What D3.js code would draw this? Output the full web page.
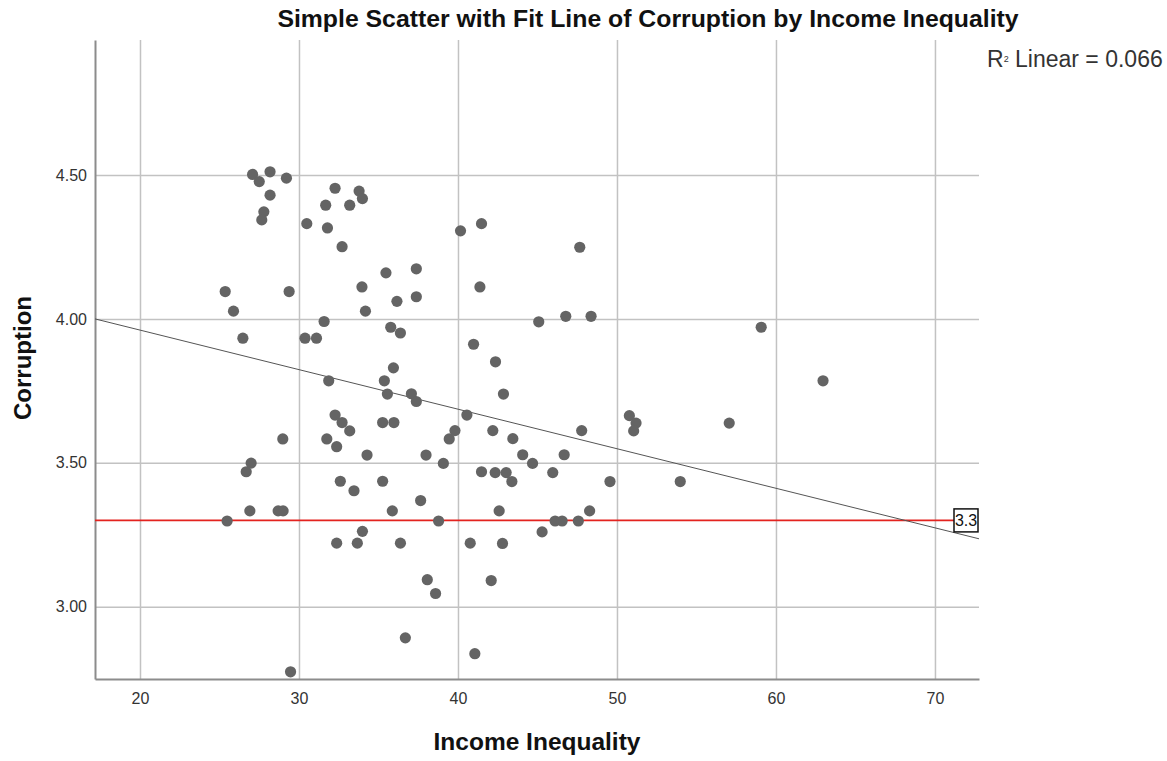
<!DOCTYPE html>
<html>
<head>
<meta charset="utf-8">
<script src="https://cdn.jsdelivr.net/npm/d3@7"></script>
<style>
  body { margin: 0; background: #fff; }
  svg { font-family: Arial, "Liberation Sans", sans-serif; }
</style>
</head>
<body>
<svg id="chart" width="1167" height="761"></svg>
<script>
// values
const incomeInequality = [
  27.08, 27.5, 28.18, 29.21, 28.18, 27.79, 27.66, 32.27, 33.78, 33.99,
  31.68, 33.19, 30.49, 31.79, 32.71, 40.16, 41.48, 47.66, 35.47, 37.38,
  25.36, 29.38, 33.96, 36.16, 37.38, 41.38, 25.88, 34.18, 31.58, 35.77,
  36.38, 26.47, 30.38, 31.10, 40.98, 45.08, 46.78, 48.37, 59.07, 42.36,
  35.94, 31.87, 35.37, 62.96, 35.56, 37.07, 37.38, 42.86, 40.56, 32.27,
  32.71, 33.19, 35.26, 35.97, 39.81, 39.45, 28.98, 31.75, 32.37, 42.19,
  43.45, 47.78, 50.78, 51.2, 51.05, 57.06, 34.28, 37.99, 39.08, 44.07,
  44.69, 46.68, 26.99, 26.68, 41.48, 42.34, 43.03, 43.39, 45.96, 49.56,
  53.98, 32.6, 35.26, 33.46, 37.65, 26.91, 28.69, 29.0, 35.87, 42.59,
  48.28, 25.48, 38.78, 46.11, 46.55, 47.57, 45.29, 33.99, 32.37, 33.67,
  36.38, 40.77, 42.8, 38.07, 38.59, 42.09, 36.69, 41.06, 29.47
];
const corruption = [
  4.502, 4.477, 4.511, 4.489, 4.43, 4.372, 4.344, 4.454, 4.444, 4.418,
  4.395, 4.395, 4.331, 4.316, 4.251, 4.306, 4.331, 4.249, 4.160, 4.174,
  4.095, 4.095, 4.111, 4.061, 4.077, 4.111, 4.027, 4.027, 3.991, 3.971,
  3.951, 3.933, 3.933, 3.933, 3.912, 3.990, 4.009, 4.009, 3.971, 3.851,
  3.830, 3.785, 3.785, 3.785, 3.739, 3.740, 3.713, 3.739, 3.666, 3.666,
  3.640, 3.611, 3.640, 3.640, 3.612, 3.583, 3.583, 3.583, 3.556, 3.612,
  3.584, 3.612, 3.664, 3.638, 3.611, 3.638, 3.527, 3.527, 3.498, 3.528,
  3.498, 3.528, 3.499, 3.469, 3.469, 3.466, 3.466, 3.435, 3.466, 3.435,
  3.435, 3.436, 3.436, 3.403, 3.369, 3.333, 3.333, 3.333, 3.333, 3.333,
  3.333, 3.298, 3.298, 3.298, 3.298, 3.298, 3.260, 3.262, 3.221, 3.221,
  3.221, 3.221, 3.220, 3.094, 3.046, 3.091, 2.892, 2.837, 2.774
];
const xTicks = [20, 30, 40, 50, 60, 70];
const yTicks = [3.0, 3.5, 4.0, 4.5];
const xDomain = [17.17, 72.77];
const yDomain = [2.749, 4.969];

// fit line and reference line
const fitIntercept = 4.236;
const fitSlope = -0.01374;
const refValue = 3.3;
const rSquared = 0.066;

const titleText = 'Simple Scatter with Fit Line of Corruption by Income Inequality';
const xTitle = 'Income Inequality';
const yTitle = 'Corruption';

const margin = {top: 40, right: 188, bottom: 82, left: 95};
const W = 1167, H = 761;
const w = W - margin.left - margin.right,
      h = H - margin.top - margin.bottom;

const svg = d3.select('#chart');
const g = svg.append('g')
  .attr('transform', `translate(${margin.left},${margin.top})`);

const x = d3.scaleLinear().domain(xDomain).range([0, w]);
const y = d3.scaleLinear().domain(yDomain).range([h, 0]);

// axes with gridlines
const yAxis = d3.axisLeft(y)
  .tickValues(yTicks)
  .tickFormat(d3.format('.2f'))
  .tickSizeInner(-w)
  .tickSizeOuter(0)
  .tickPadding(8);

const xAxis = d3.axisBottom(x)
  .tickValues(xTicks)
  .tickFormat(d3.format('d'))
  .tickSizeInner(-h)
  .tickSizeOuter(0)
  .tickPadding(14);

const gx = g.append('g')
  .attr('transform', `translate(0,${h})`)
  .call(xAxis);
const gy = g.append('g').call(yAxis);

[gx, gy].forEach(ax => {
  ax.selectAll('.tick line')
    .attr('stroke', '#c2c2c2')
    .attr('stroke-width', 1.5);
  ax.selectAll('.tick text')
    .attr('fill', '#333')
    .style('font-size', '16px');
  ax.select('.domain')
    .attr('stroke', '#8c8c8c')
    .attr('stroke-width', 2);
});
gx.select('.domain').raise();
gy.select('.domain').raise();

// reference line
g.append('line')
  .attr('x1', 0)
  .attr('x2', w - 25)
  .attr('y1', y(refValue))
  .attr('y2', y(refValue))
  .attr('stroke', '#e3231f')
  .attr('stroke-width', 1.6);

// fit line
g.append('line')
  .attr('x1', x(xDomain[0]))
  .attr('y1', y(fitIntercept + fitSlope * xDomain[0]))
  .attr('x2', x(xDomain[1]))
  .attr('y2', y(fitIntercept + fitSlope * xDomain[1]))
  .attr('stroke', '#555')
  .attr('stroke-width', 1);

// points
const points = incomeInequality.map((v, i) => ({x: v, y: corruption[i]}));
g.append('g')
  .selectAll('circle')
  .data(points)
  .join('circle')
  .attr('cx', d => x(d.x))
  .attr('cy', d => y(d.y))
  .attr('r', 5.6)
  .attr('fill', '#646464');

// reference label box
const lab = g.append('g')
  .attr('transform', `translate(${w - 25},${y(refValue)})`);
lab.append('rect')
  .attr('x', 0).attr('y', -11.5)
  .attr('width', 24).attr('height', 23)
  .attr('fill', '#fff')
  .attr('stroke', '#111')
  .attr('stroke-width', 1.5);
lab.append('text')
  .attr('x', 12).attr('y', 6)
  .attr('text-anchor', 'middle')
  .style('font-size', '16px')
  .attr('fill', '#111')
  .text(d3.format('.1f')(refValue));

// titles
svg.append('text')
  .attr('x', 648).attr('y', 27)
  .attr('text-anchor', 'middle')
  .style('font-size', '24.8px')
  .style('font-weight', 'bold')
  .attr('fill', '#111')
  .text(titleText);

const r2 = svg.append('text')
  .attr('x', 987).attr('y', 67)
  .style('font-size', '23px')
  .attr('fill', '#333');
r2.append('tspan').text('R');
r2.append('tspan').attr('dy', -5).style('font-size', '9px').text('2');
r2.append('tspan').attr('dy', 5).text(' Linear = ' + d3.format('.3f')(rSquared));

svg.append('text')
  .attr('x', margin.left + w / 2).attr('y', 750)
  .attr('text-anchor', 'middle')
  .style('font-size', '24.5px')
  .style('font-weight', 'bold')
  .attr('fill', '#111')
  .text(xTitle);

svg.append('text')
  .attr('transform', 'translate(31,358) rotate(-90)')
  .attr('text-anchor', 'middle')
  .style('font-size', '24px')
  .style('font-weight', 'bold')
  .attr('fill', '#111')
  .text(yTitle);
</script>
</body>
</html>
